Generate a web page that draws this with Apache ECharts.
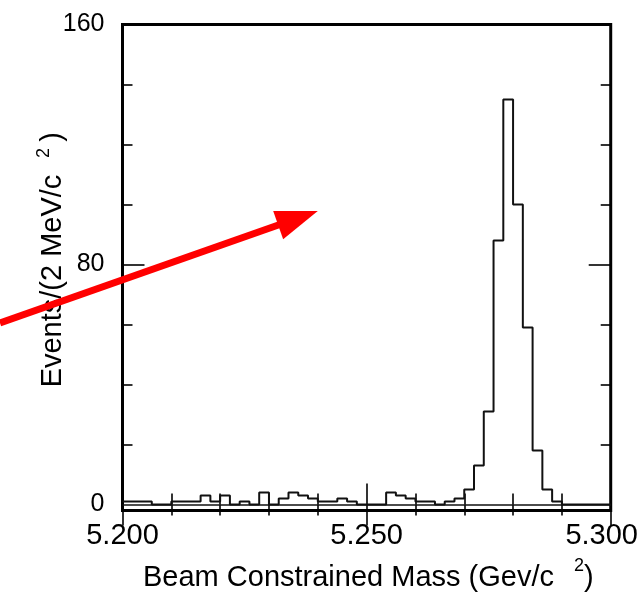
<!DOCTYPE html>
<html><head><meta charset="utf-8">
<script src="https://cdn.jsdelivr.net/npm/echarts@6/dist/echarts.min.js"></script>
<style>html,body{margin:0;padding:0;background:#fff}#c{width:641px;height:593px}</style>
</head><body><div id="c"></div>
<script>
// ---- data ----
const binStart = 5.200;
const binWidth = 0.002;
const counts = [1,1,1,0,0,1,1,1,3,1,
                3,0,1,0,4,0,2,4,3,2,
                1,1,2,1,0,0,0,4,3,2,
                1,1,0,1,2,5,13,31,88,135,
                100,59,18,5,1,0,0,0,0,0];
const xTickValues = [5.200, 5.250, 5.300];
const yLabelValues = [0, 80, 160];
const yMinorTicks = [20, 40, 60, 100, 120, 140];
const yMajorTicks = [80];
const xTitle = 'Beam Constrained Mass (Gev/c';
const yTitle = 'Events/(2 MeV/c';
const arrowTail = [5.1749, 60.5];
const arrowTip = [5.2400, 97.8];

// ---- build ----
const FONT = '"Liberation Sans", Arial, Helvetica, sans-serif';
const pts = counts.map((c, i) => [+(binStart + i * binWidth).toFixed(3), c]);
pts.push([+(binStart + counts.length * binWidth).toFixed(3), counts[counts.length - 1]]);

const chart = echarts.init(document.getElementById('c'), null, {renderer: 'canvas'});
const X_MIN = 5.2, X_MAX = 5.3, Y_MIN = -2, Y_MAX = 160;
const tickStyle = {color: '#000', width: 1.6};

function yAxisDef(pos, ticks, len, labels) {
  return {
    type: 'value', position: pos, min: Y_MIN, max: Y_MAX,
    axisLine: {show: false},
    splitLine: {show: false},
    axisTick: {show: true, inside: true, length: len, customValues: ticks, lineStyle: tickStyle},
    axisLabel: labels ? {show: true, customValues: labels, fontSize: 25, fontFamily: FONT, color: '#000', margin: 18}
                      : {show: false}
  };
}
function xAxisDef(pos, labels) {
  return {
    type: 'value', position: pos, min: X_MIN, max: X_MAX, interval: 0.05,
    axisLine: {show: false},
    splitLine: {show: false},
    axisTick: {show: true, inside: true, length: 21, lineStyle: tickStyle},
    minorTick: {show: true, splitNumber: 5, length: 11, lineStyle: tickStyle},
    axisLabel: labels ? {
      show: true, fontSize: 29, fontFamily: FONT, color: '#000', margin: 11,
      formatter: v => (Math.abs(v - X_MAX) < 1e-9 ? '{last|' + v.toFixed(3) + '}' : v.toFixed(3)),
      rich: {last: {fontSize: 29, fontFamily: FONT, color: '#000', padding: [0, 18, 0, 0]}}
    } : {show: false}
  };
}

chart.setOption({
  animation: false,
  backgroundColor: '#fff',
  grid: {left: 122.5, top: 24.5, width: 488.5, height: 486, show: true,
         borderColor: '#000', borderWidth: 3, backgroundColor: 'transparent'},
  xAxis: [xAxisDef('bottom', true), xAxisDef('top', false)],
  yAxis: [
    yAxisDef('left', yMinorTicks, 10, yLabelValues),
    yAxisDef('left', yMajorTicks, 22, null),
    yAxisDef('right', yMinorTicks, 10, null),
    yAxisDef('right', yMajorTicks, 22, null)
  ],
  series: [{
    type: 'line', xAxisIndex: 0, yAxisIndex: 0,
    step: 'end', symbol: 'none', data: pts,
    lineStyle: {color: '#111', width: 2},
    markLine: {silent: true, symbol: ['none', 'none'], label: {show: false},
               lineStyle: {color: '#111', width: 1.6, type: 'solid'},
               data: [{yAxis: 0}]}
  }]
});

const t = chart.convertToPixel({xAxisIndex: 0, yAxisIndex: 0}, arrowTail);
const h = chart.convertToPixel({xAxisIndex: 0, yAxisIndex: 0}, arrowTip);
const dx = h[0] - t[0], dy = h[1] - t[1], L = Math.hypot(dx, dy);
const ux = dx / L, uy = dy / L, px = -uy, py = ux;
const headLen = 42, headHalf = 15;
const bx = h[0] - ux * headLen, by = h[1] - uy * headLen;

chart.setOption({
  graphic: [
    {type: 'text', x: 143, y: 578, style: {text: xTitle, fontSize: 29, fontFamily: FONT, fill: '#000', align: 'left', verticalAlign: 'middle'}},
    {type: 'text', x: 574, y: 566, style: {text: '2', fontSize: 18, fontFamily: FONT, fill: '#000', align: 'left', verticalAlign: 'middle'}},
    {type: 'text', x: 584, y: 578, style: {text: ')', fontSize: 29, fontFamily: FONT, fill: '#000', align: 'left', verticalAlign: 'middle'}},
    {type: 'text', x: 53, y: 281, rotation: Math.PI / 2, style: {text: yTitle, fontSize: 29, fontFamily: FONT, fill: '#000', align: 'center', verticalAlign: 'middle'}},
    {type: 'text', x: 44, y: 153, rotation: Math.PI / 2, style: {text: '2', fontSize: 18, fontFamily: FONT, fill: '#000', align: 'center', verticalAlign: 'middle'}},
    {type: 'text', x: 53, y: 137, rotation: Math.PI / 2, style: {text: ')', fontSize: 29, fontFamily: FONT, fill: '#000', align: 'center', verticalAlign: 'middle'}},
    {type: 'line', shape: {x1: t[0], y1: t[1], x2: bx + ux * 4, y2: by + uy * 4}, style: {stroke: '#ff0000', lineWidth: 7}, z: 100},
    {type: 'polygon', shape: {points: [[h[0], h[1]], [bx + px * headHalf, by + py * headHalf], [bx - px * headHalf, by - py * headHalf]]}, style: {fill: '#ff0000'}, z: 100}
  ]
});
</script>
</body></html>
